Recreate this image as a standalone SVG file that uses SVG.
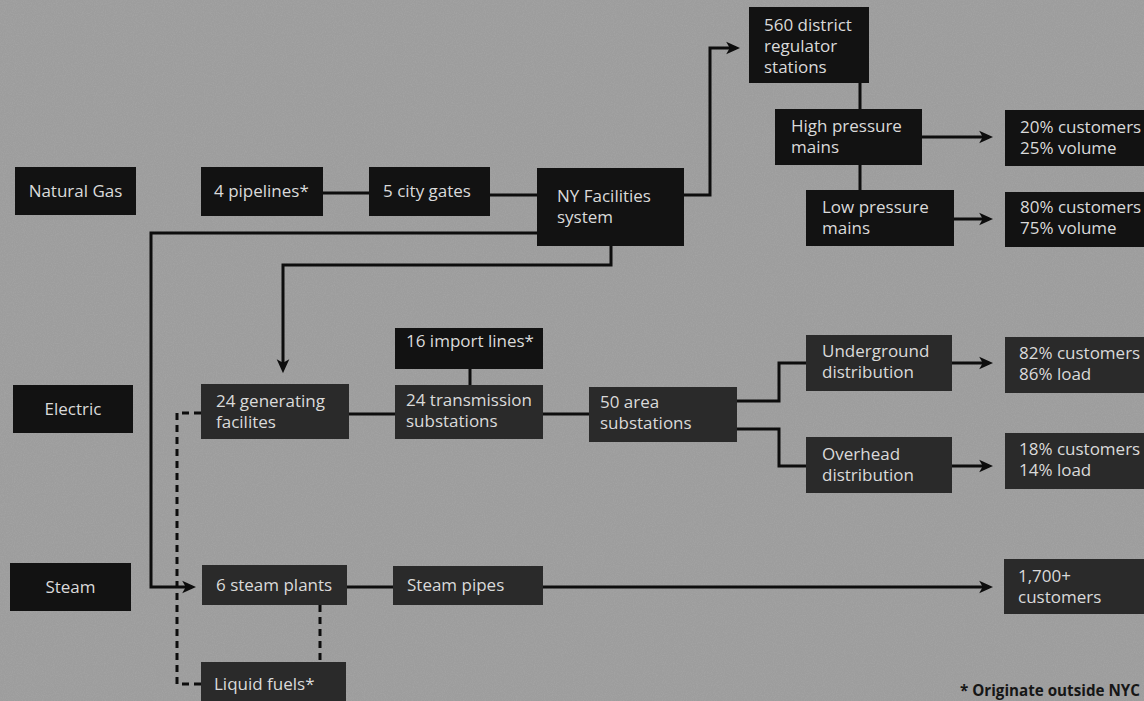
<svg xmlns="http://www.w3.org/2000/svg" width="1144" height="701" viewBox="0 0 1144 701">
<style>
.bg{fill:#9d9d9d}
.n1{fill:#121212}
.n2{fill:#2a2a2a}
.t{font-family:"Open Sans","Noto Sans","DejaVu Sans",sans-serif;font-size:17px;fill:#dadada}
.c{text-anchor:middle}
.ln{fill:none;stroke:#0d0d0d;stroke-width:3;stroke-linejoin:miter}
.ds{fill:none;stroke:#0d0d0d;stroke-width:3;stroke-dasharray:7 5}
.foot{font-family:"Open Sans","Noto Sans","DejaVu Sans",sans-serif;font-size:15.2px;font-weight:bold;fill:#161616}
</style>
<defs>
<marker id="ah" viewBox="0 0 10 10" markerWidth="14" markerHeight="14" markerUnits="userSpaceOnUse" refX="7" refY="5" orient="auto">
<path d="M0,0.5 L10,5 L0,9.5 L2.5,5 z" fill="#0d0d0d"/>
</marker>
<filter id="noise" x="0" y="0" width="100%" height="100%">
<feTurbulence type="fractalNoise" baseFrequency="0.9" numOctaves="2" seed="3"/>
<feColorMatrix type="matrix" values="0 0 0 0 0.5  0 0 0 0 0.5  0 0 0 0 0.5  1.2 0 0 0 -0.45"/>
</filter>
</defs>
<rect class="bg" x="0" y="0" width="1144" height="701"/>
<rect x="0" y="0" width="1144" height="701" filter="url(#noise)" opacity="0.35"/>

<g id="connectors">
<path class="ln" d="M323,193 H369"/>
<path class="ln" d="M490,195 H537"/>
<path class="ln" d="M684,195 H710 V48 H736" marker-end="url(#ah)"/>
<path class="ln" d="M860,83 V109"/>
<path class="ln" d="M860,165 V190"/>
<path class="ln" d="M922,137 H989" marker-end="url(#ah)"/>
<path class="ln" d="M954,219 H989" marker-end="url(#ah)"/>
<path class="ln" d="M537,233 H151 V587 H192" marker-end="url(#ah)"/>
<path class="ln" d="M611,246 V265 H283 V369" marker-end="url(#ah)"/>
<path class="ln" d="M349,414 H395"/>
<path class="ln" d="M470,369 V385"/>
<path class="ln" d="M543,414 H589"/>
<path class="ln" d="M737,401 H779 V363 H806"/>
<path class="ln" d="M737,429 H779 V466 H806"/>
<path class="ln" d="M952,363 H989" marker-end="url(#ah)"/>
<path class="ln" d="M952,466 H989" marker-end="url(#ah)"/>
<path class="ln" d="M347,587 H393"/>
<path class="ln" d="M543,587 H989" marker-end="url(#ah)"/>
<path class="ds" d="M201,413 H177 V684 H201"/>
<path class="ds" d="M320,605 V662"/>
</g>

<g id="natural-gas"><rect class="n1" x="15" y="167" width="121" height="48"/><text class="t c" x="75.5" y="197">Natural Gas</text></g>
<g id="electric"><rect class="n1" x="13" y="385" width="120" height="48"/><text class="t c" x="73" y="415">Electric</text></g>
<g id="steam"><rect class="n1" x="10" y="563" width="121" height="48"/><text class="t c" x="70.5" y="593">Steam</text></g>

<g id="pipelines"><rect class="n1" x="201" y="167" width="122" height="49"/><text class="t" x="214" y="197">4 pipelines*</text></g>
<g id="city-gates"><rect class="n1" x="369" y="167" width="121" height="49"/><text class="t" x="383" y="197">5 city gates</text></g>
<g id="ny-facilities"><rect class="n1" x="537" y="168" width="147" height="78"/><text class="t" x="557" y="202">NY Facilities</text><text class="t" x="557" y="223">system</text></g>
<g id="regulator"><rect class="n1" x="749" y="7" width="120" height="76"/><text class="t" x="764" y="31">560 district</text><text class="t" x="764" y="52">regulator</text><text class="t" x="764" y="73">stations</text></g>
<g id="high-pressure"><rect class="n1" x="775" y="109" width="147" height="56"/><text class="t" x="791" y="132">High pressure</text><text class="t" x="791" y="153">mains</text></g>
<g id="low-pressure"><rect class="n1" x="806" y="190" width="148" height="56"/><text class="t" x="822" y="213">Low pressure</text><text class="t" x="822" y="234">mains</text></g>
<g id="gas-high-out"><rect class="n1" x="1005" y="110" width="139" height="56"/><text class="t" x="1020" y="133">20% customers</text><text class="t" x="1020" y="154">25% volume</text></g>
<g id="gas-low-out"><rect class="n1" x="1005" y="192" width="139" height="55"/><text class="t" x="1020" y="213">80% customers</text><text class="t" x="1020" y="234">75% volume</text></g>

<g id="import-lines"><rect class="n1" x="395" y="328" width="148" height="41"/><text class="t" x="406" y="347">16 import lines*</text></g>
<g id="generating"><rect class="n2" x="201" y="384" width="148" height="55"/><text class="t" x="216" y="407">24 generating</text><text class="t" x="216" y="428">facilites</text></g>
<g id="transmission"><rect class="n2" x="395" y="385" width="148" height="54"/><text class="t" x="406" y="406">24 transmission</text><text class="t" x="406" y="427">substations</text></g>
<g id="area-substations"><rect class="n2" x="589" y="387" width="148" height="55"/><text class="t" x="600" y="408">50 area</text><text class="t" x="600" y="429">substations</text></g>
<g id="underground"><rect class="n2" x="806" y="335" width="146" height="56"/><text class="t" x="822" y="357">Underground</text><text class="t" x="822" y="378">distribution</text></g>
<g id="overhead"><rect class="n2" x="806" y="437" width="146" height="56"/><text class="t" x="822" y="460">Overhead</text><text class="t" x="822" y="481">distribution</text></g>
<g id="elec-under-out"><rect class="n2" x="1005" y="337" width="139" height="56"/><text class="t" x="1019" y="359">82% customers</text><text class="t" x="1019" y="380">86% load</text></g>
<g id="elec-over-out"><rect class="n2" x="1005" y="433" width="139" height="56"/><text class="t" x="1019" y="455">18% customers</text><text class="t" x="1019" y="476">14% load</text></g>

<g id="steam-plants"><rect class="n2" x="202" y="565" width="145" height="40"/><text class="t" x="216" y="591">6 steam plants</text></g>
<g id="steam-pipes"><rect class="n2" x="393" y="566" width="150" height="39"/><text class="t" x="407" y="591">Steam pipes</text></g>
<g id="liquid-fuels"><rect class="n2" x="201" y="662" width="145" height="39"/><text class="t" x="214" y="690">Liquid fuels*</text></g>
<g id="steam-out"><rect class="n2" x="1004" y="559" width="140" height="55"/><text class="t" x="1018" y="582">1,700+</text><text class="t" x="1018" y="603">customers</text></g>

<text class="foot" x="960" y="696">* Originate outside NYC</text>
</svg>
